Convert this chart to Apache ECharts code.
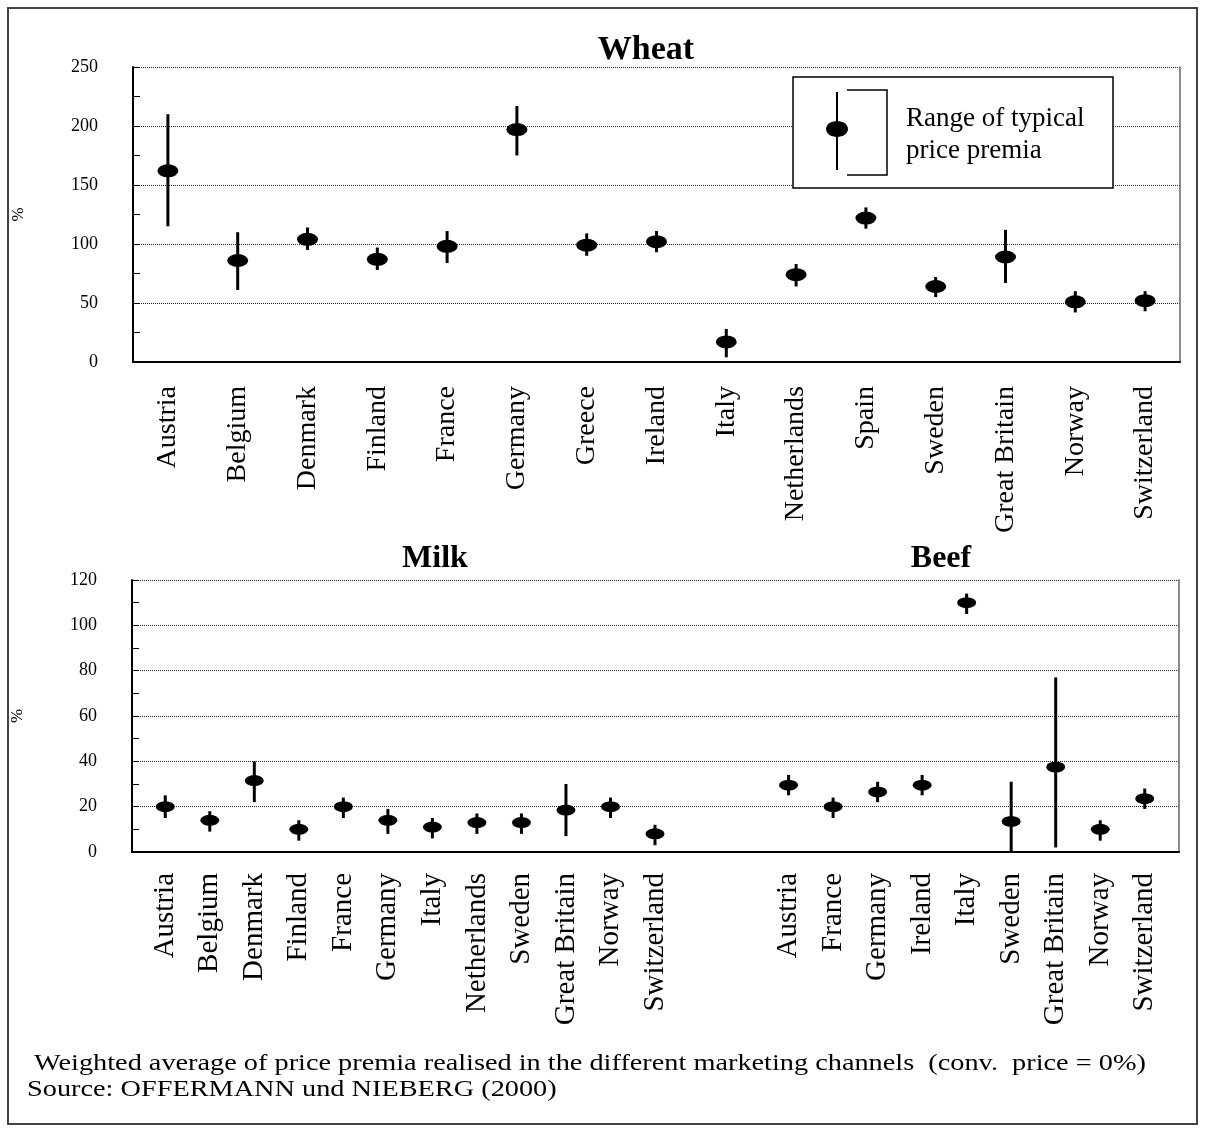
<!DOCTYPE html>
<html>
<head>
<meta charset="utf-8">
<title>Price premia</title>
<script src="https://cdn.jsdelivr.net/npm/echarts@6/dist/echarts.min.js"></script>
<style>
  html, body { margin: 0; padding: 0; background: #fff; }
  #chart { width: 1205px; height: 1130px; }
</style>
</head>
<body>
<div id="chart"></div>
<script>
// wheat
var wheatCountries = ['Austria', 'Belgium', 'Denmark', 'Finland', 'France', 'Germany', 'Greece', 'Ireland',
    'Italy', 'Netherlands', 'Spain', 'Sweden', 'Great Britain', 'Norway', 'Switzerland'];
var wheatMid = [162, 86, 104, 87, 98, 197, 99, 102, 17, 74, 122, 64, 89, 51, 52];
var wheatLow = [115, 61, 95, 78, 84, 175, 90, 93, 4, 64, 113, 55, 67, 42, 43];
var wheatHigh = [210, 110, 114, 97, 111, 217, 109, 111, 28, 83, 131, 72, 112, 60, 60];

// milk
var milkCountries = ['Austria', 'Belgium', 'Denmark', 'Finland', 'France', 'Germany', 'Italy',
    'Netherlands', 'Sweden', 'Great Britain', 'Norway', 'Switzerland'];
var milkMid = [20, 14, 31.5, 10, 20, 14, 11, 13, 13, 18.5, 20, 8];
var milkLow = [15, 9, 22, 5, 15, 8, 6, 8, 8, 7, 15, 3];
var milkHigh = [25, 18, 40, 14, 24, 19, 15, 17, 17, 30, 24, 12];

// beef
var beefCountries = ['Austria', 'France', 'Germany', 'Ireland', 'Italy', 'Sweden', 'Great Britain', 'Norway', 'Switzerland'];
var beefMid = [29.5, 20, 26.5, 29.5, 110, 13.5, 37.5, 10, 23.5];
var beefLow = [25, 15, 22, 25, 105, 0, 2, 5, 19];
var beefHigh = [34, 24, 31, 34, 114, 31, 77, 14, 28];

var serif = 'Liberation Serif';
var gap = 2; // empty slots between milk and beef

window.onload = function () {
    var myChart = echarts.init(document.getElementById('chart'));

    // bottom categories: milk, blanks, beef
    var bottomCats = milkCountries.slice();
    for (var g = 0; g < gap; g++) bottomCats.push('');
    bottomCats = bottomCats.concat(beefCountries);
    var beefStart = milkCountries.length + gap;

    var wheatRange = wheatCountries.map(function (c, i) { return [i, wheatLow[i], wheatHigh[i]]; });
    var wheatDots = wheatCountries.map(function (c, i) { return [i, wheatMid[i]]; });
    var bottomRange = [], bottomDots = [];
    milkCountries.forEach(function (c, i) {
        bottomRange.push([i, milkLow[i], milkHigh[i]]);
        bottomDots.push([i, milkMid[i]]);
    });
    beefCountries.forEach(function (c, i) {
        bottomRange.push([beefStart + i, beefLow[i], beefHigh[i]]);
        bottomDots.push([beefStart + i, beefMid[i]]);
    });

    function renderRange(params, api) {
        var a = api.coord([api.value(0), api.value(1)]);
        var b = api.coord([api.value(0), api.value(2)]);
        return {
            type: 'line',
            shape: { x1: a[0], y1: a[1], x2: b[0], y2: b[1] },
            style: { stroke: '#000', lineWidth: 3 }
        };
    }

    function valueAxis(grid, min, max, interval, showName) {
        return {
            type: 'value', gridIndex: grid, min: min, max: max, interval: interval,
            name: showName ? '%' : '', nameLocation: 'middle', nameGap: 106, nameRotate: 90,
            nameTextStyle: { fontFamily: serif, fontSize: 17, color: '#000' },
            axisLine: { show: true, lineStyle: { color: '#000', width: 2 } },
            axisTick: { show: true, inside: true, length: 7, lineStyle: { color: '#000' } },
            minorTick: { show: true, splitNumber: 2, length: 7, lineStyle: { color: '#000' } },
            axisLabel: { margin: 35, fontFamily: serif, fontSize: 18, color: '#000' },
            splitLine: { show: true, lineStyle: { color: '#222', type: 'dotted', width: 1 } }
        };
    }

    function borderAxis(grid, min, max) {
        return {
            type: 'value', gridIndex: grid, position: 'right', min: min, max: max,
            axisLine: { show: true, lineStyle: { color: '#666', width: 1.5 } },
            axisTick: { show: false }, axisLabel: { show: false }, splitLine: { show: false }
        };
    }

    var option = {
        animation: false,
        backgroundColor: '#fff',
        title: [
            { text: 'Wheat', left: 641, top: 28, textAlign: 'center',
              textStyle: { fontFamily: serif, fontSize: 34, fontWeight: 'bold', color: '#000' } },
            { text: 'Milk', left: 430, top: 538, textAlign: 'center',
              textStyle: { fontFamily: serif, fontSize: 32, fontWeight: 'bold', color: '#000' } },
            { text: 'Beef', left: 936, top: 538, textAlign: 'center',
              textStyle: { fontFamily: serif, fontSize: 32, fontWeight: 'bold', color: '#000' } }
        ],
        grid: [
            { left: 133, right: 25, top: 67, height: 295 },
            { left: 132, right: 26, top: 580, height: 272 },
            { left: 143, right: 38, top: 580, height: 272 }
        ],
        xAxis: [
            {
                type: 'category', gridIndex: 0, data: wheatCountries,
                axisLine: { show: true, lineStyle: { color: '#000', width: 2 } },
                axisTick: { show: false },
                axisLabel: { rotate: 90, margin: 24, interval: 0, fontFamily: serif, fontSize: 28, color: '#000' }
            },
            {
                type: 'value', gridIndex: 1, min: 0, max: 1,
                axisLine: { show: true, lineStyle: { color: '#000', width: 2 } },
                axisTick: { show: false }, axisLabel: { show: false }, splitLine: { show: false }
            },
            {
                type: 'category', gridIndex: 2, data: bottomCats,
                axisLine: { show: false },
                axisTick: { show: false },
                axisLabel: { rotate: 90, margin: 21, interval: 0, fontFamily: serif, fontSize: 29, color: '#000' }
            }
        ],
        yAxis: [
            valueAxis(0, 0, 250, 50, true),
            borderAxis(0, 0, 250),
            valueAxis(1, 0, 120, 20, true),
            borderAxis(1, 0, 120),
            { type: 'value', gridIndex: 2, min: 0, max: 120, show: false }
        ],
        series: [
            { type: 'custom', xAxisIndex: 0, yAxisIndex: 0, renderItem: renderRange, data: wheatRange, z: 3 },
            { type: 'scatter', xAxisIndex: 0, yAxisIndex: 0, data: wheatDots, symbol: 'circle',
              symbolSize: [21, 13], itemStyle: { color: '#000', opacity: 1 }, z: 4 },
            { type: 'custom', xAxisIndex: 2, yAxisIndex: 4, renderItem: renderRange, data: bottomRange, z: 3 },
            { type: 'scatter', xAxisIndex: 2, yAxisIndex: 4, data: bottomDots, symbol: 'circle',
              symbolSize: [19, 11], itemStyle: { color: '#000', opacity: 1 }, z: 4 }
        ],
        graphic: [
            { type: 'rect', z: 0, silent: true, shape: { x: 8, y: 8, width: 1189, height: 1116 },
              style: { fill: 'none', stroke: '#444', lineWidth: 2 } },
            // legend box
            { type: 'rect', z: 100, shape: { x: 793, y: 77, width: 320, height: 111 },
              style: { fill: '#fff', stroke: '#000', lineWidth: 1.5 } },
            { type: 'line', z: 101, shape: { x1: 837, y1: 92, x2: 837, y2: 170 },
              style: { stroke: '#000', lineWidth: 2 } },
            { type: 'ellipse', z: 101, shape: { cx: 837, cy: 129, rx: 11, ry: 8 },
              style: { fill: '#000' } },
            { type: 'polyline', z: 101, shape: { points: [[847, 90], [887, 90], [887, 175], [847, 175]] },
              style: { stroke: '#000', lineWidth: 1.5, fill: 'none' } },
            { type: 'text', z: 101, left: 906, top: 103,
              style: { text: 'Range of typical\nprice premia', font: '27px "Liberation Serif"', lineHeight: 32, fill: '#000' } },
            // footer (the original text is horizontally stretched)
            { type: 'text', z: 101, x: 27, y: 1052, scaleX: 1.23,
              style: { text: ' Weighted average of price premia realised in the different marketing channels  (conv.  price = 0%)',
                       font: '23px "Liberation Serif"', fill: '#000' } },
            { type: 'text', z: 101, x: 27, y: 1078, scaleX: 1.23,
              style: { text: 'Source: OFFERMANN und NIEBERG (2000)', font: '23px "Liberation Serif"', fill: '#000' } }
        ]
    };

    myChart.setOption(option);
    window.addEventListener('resize', function () {
        myChart.resize();
    });
};
</script>
</body>
</html>
